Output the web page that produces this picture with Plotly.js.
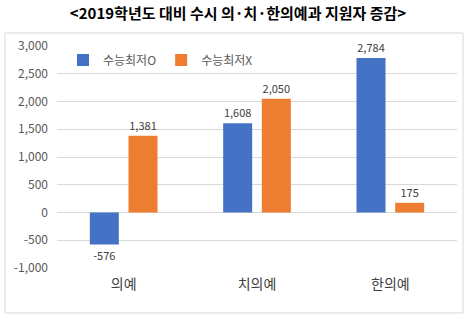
<!DOCTYPE html>
<html><head><meta charset="utf-8">
<script src="https://cdn.plot.ly/plotly-3.0.1.min.js"></script>
<style>html,body{margin:0;padding:0;background:#fff}</style>
</head><body>
<div id="chart" style="width:476px;height:322px"></div>
<script>
const categories = ['의예', '치의예', '한의예'];
const seriesNames = ['수능최저O', '수능최저X'];
const withMin = [-576, 1608, 2784];
const withoutMin = [1381, 2050, 175];
const tickVals = [-1000, -500, 0, 500, 1000, 1500, 2000, 2500, 3000];
const tickText = ['-1,000', '-500', '0', '500', '1,000', '1,500', '2,000', '2,500', '3,000'];

const fmt = v => v.toLocaleString('en-US');
const font = 'Malgun Gothic, "Noto Sans CJK KR", sans-serif';

const traces = [
  {type:'bar', name:seriesNames[0], x:categories, y:withMin, marker:{color:'#4472C4'},
   text:withMin.map(fmt), textposition:'outside', cliponaxis:false,
   textfont:{size:11, color:'#404040', family:font}},
  {type:'bar', name:seriesNames[1], x:categories, y:withoutMin, marker:{color:'#ED7D31'},
   text:withoutMin.map(fmt), textposition:'outside', cliponaxis:false,
   textfont:{size:11, color:'#404040', family:font}}
];

const layout = {
  width:476, height:322,
  margin:{l:57, r:19, t:46, b:54},
  paper_bgcolor:'#fff', plot_bgcolor:'#fff',
  font:{family:font, color:'#595959', size:11},
  title:{text:'<b><2019학년도 대비 수시 의·치·한의예과 지원자 증감></b>', x:0.5, xanchor:'center', y:0.958, yanchor:'middle',
         font:{size:15, color:'#000', family:font}},
  barmode:'group', bargap:0.42, bargroupgap:0.25,
  showlegend:true,
  legend:{orientation:'h', x:0.015, xanchor:'left', y:0.937, yanchor:'middle', font:{size:12, color:'#595959'},
          bgcolor:'rgba(0,0,0,0)', itemwidth:30, tracegroupgap:0},
  xaxis:{showgrid:false, showline:false, ticks:'', tickfont:{size:14, color:'#404040'}, zeroline:false, fixedrange:true,
         ticklabelstandoff:6},
  yaxis:{range:[-1000, 3000], tickvals:tickVals, ticktext:tickText, showgrid:true, gridcolor:'#d9d9d9', gridwidth:1,
         zeroline:true, zerolinecolor:'#d9d9d9', zerolinewidth:1, showline:false, ticks:'', ticklen:0,
         tickfont:{size:12, color:'#595959'}, fixedrange:true, ticklabelstandoff:8},
  shapes:[{type:'rect', xref:'paper', yref:'paper', x0:-0.13, x1:1.015, y0:-0.2027, y1:1.0586,
           line:{color:'#d9d9d9', width:1}, fillcolor:'rgba(0,0,0,0)', layer:'below'}]
};
Plotly.newPlot('chart', traces, layout, {displayModeBar:false, staticPlot:true});
</script>
</body></html>
